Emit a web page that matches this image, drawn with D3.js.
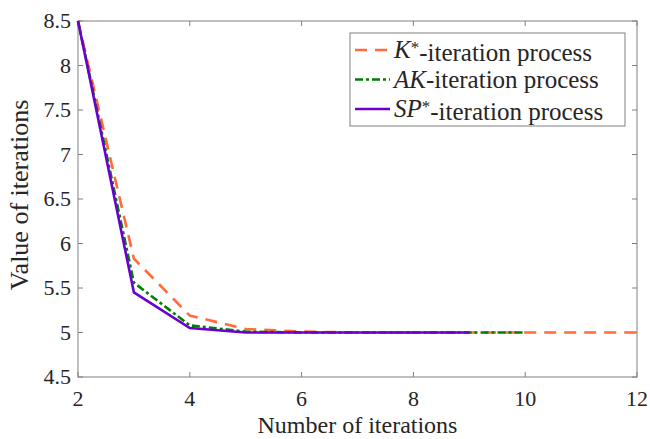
<!DOCTYPE html>
<html>
<head>
<meta charset="utf-8">
<script src="https://cdn.jsdelivr.net/npm/d3@7"></script>
<style>
  body { margin: 0; background: #fff; }
  svg text { font-family: 'Liberation Serif', 'DejaVu Serif', serif; fill: #262626; }
</style>
</head>
<body>
<div id="chart"></div>
<script>
// iterations on the x axis
const itersK = [2, 3, 4, 5, 6, 7, 8, 9, 10, 11, 12]
const itersAK = [2, 3, 4, 5, 6, 7, 8, 9, 10]
const itersSP = [2, 3, 4, 5, 6, 7, 8, 9]

// values
const valuesK = [8.5, 5.83, 5.19, 5.04, 5.01, 5.0, 5.0, 5.0, 5.0, 5.0, 5.0]
const valuesAK = [8.5, 5.56, 5.08, 5.01, 5.0, 5.0, 5.0, 5.0, 5.0]
const valuesSP = [8.5, 5.45, 5.05, 5.0, 5.0, 5.0, 5.0, 5.0]

const xTicks = [2, 4, 6, 8, 10, 12]
const yTicks = [4.5, 5, 5.5, 6, 6.5, 7, 7.5, 8, 8.5]

const W = 650, H = 439
const margin = {top: 21, right: 13, bottom: 62, left: 78}
const width = W - margin.left - margin.right,
      height = H - margin.top - margin.bottom

const svg = d3.select("#chart").append("svg")
    .attr("width", W)
    .attr("height", H)
    .attr("font-family", "'Liberation Serif', 'DejaVu Serif', serif")

const g = svg.append("g")
    .attr("transform", "translate(" + margin.left + "," + margin.top + ")")

let x = d3.scaleLinear().domain([2, 12]).range([0, width])
let y = d3.scaleLinear().domain([4.5, 8.5]).range([height, 0])

const axisColor = "#808080"
const tickLen = 5

// frame
g.append("rect")
    .attr("width", width).attr("height", height)
    .attr("fill", "none").attr("stroke", axisColor).attr("stroke-width", 1)

// ticks, inward on all four sides
xTicks.forEach(t => {
    g.append("line").attr("x1", x(t)).attr("x2", x(t)).attr("y1", height).attr("y2", height - tickLen).attr("stroke", axisColor)
    g.append("line").attr("x1", x(t)).attr("x2", x(t)).attr("y1", 0).attr("y2", tickLen).attr("stroke", axisColor)
    g.append("text").attr("x", x(t)).attr("y", height + 29)
        .attr("text-anchor", "middle").style("font-size", "22px").text(t)
})
yTicks.forEach(t => {
    g.append("line").attr("y1", y(t)).attr("y2", y(t)).attr("x1", 0).attr("x2", tickLen).attr("stroke", axisColor)
    g.append("line").attr("y1", y(t)).attr("y2", y(t)).attr("x1", width).attr("x2", width - tickLen).attr("stroke", axisColor)
    g.append("text").attr("x", -7).attr("y", y(t)).attr("dy", "0.33em")
        .attr("text-anchor", "end").style("font-size", "22px").text(t)
})

// axis labels
g.append("text")
    .attr("x", width / 2).attr("y", height + 56)
    .attr("text-anchor", "middle").style("font-size", "24px")
    .text("Number of iterations")
g.append("text")
    .attr("transform", "translate(" + (-50) + "," + (height / 2 - 4) + ") rotate(-90)")
    .attr("text-anchor", "middle").style("font-size", "26px")
    .text("Value of iterations")

const series = [
    {xs: itersK, ys: valuesK, color: "#ff6b3b", dash: "12,8"},
    {xs: itersAK, ys: valuesAK, color: "#008000", dash: "8,3,3,3"},
    {xs: itersSP, ys: valuesSP, color: "#6a00d0", dash: null}
]

const line = d3.line().x(d => x(d[0])).y(d => y(d[1]))

series.forEach(s => {
    g.append("path")
        .datum(s.xs.map((v, i) => [v, s.ys[i]]))
        .attr("d", line)
        .attr("fill", "none")
        .attr("stroke", s.color)
        .attr("stroke-width", 2.6)
        .attr("stroke-dasharray", s.dash)
})

// legend
const leg = svg.append("g").attr("transform", "translate(350,33)")
leg.append("rect").attr("width", 275).attr("height", 93)
    .attr("fill", "#fff").attr("stroke", axisColor)

const legendLabels = [
    [{t: "K", it: true}, {t: "*", sup: true}, {t: "-iteration process"}],
    [{t: "AK", it: true}, {t: "-iteration process"}],
    [{t: "SP", it: true}, {t: "*", sup: true}, {t: "-iteration process"}]
]

legendLabels.forEach((parts, i) => {
    let ly = 17 + i * 29.5
    leg.append("line")
        .attr("x1", 5).attr("x2", 40).attr("y1", ly).attr("y2", ly)
        .attr("stroke", series[i].color).attr("stroke-width", 2.6)
        .attr("stroke-dasharray", series[i].dash)
    let txt = leg.append("text").attr("x", 44).attr("y", ly).attr("dy", "0.33em")
        .style("font-size", "25px")
    parts.forEach((p, j) => {
        let ts = txt.append("tspan").text(p.t)
        if (p.it) ts.style("font-style", "italic")
        if (p.sup) ts.attr("dy", "-0.3em").style("font-size", "17px")
        else if (j > 0 && parts[j - 1].sup) ts.attr("dy", "0.3em")
    })
})
</script>
</body>
</html>
